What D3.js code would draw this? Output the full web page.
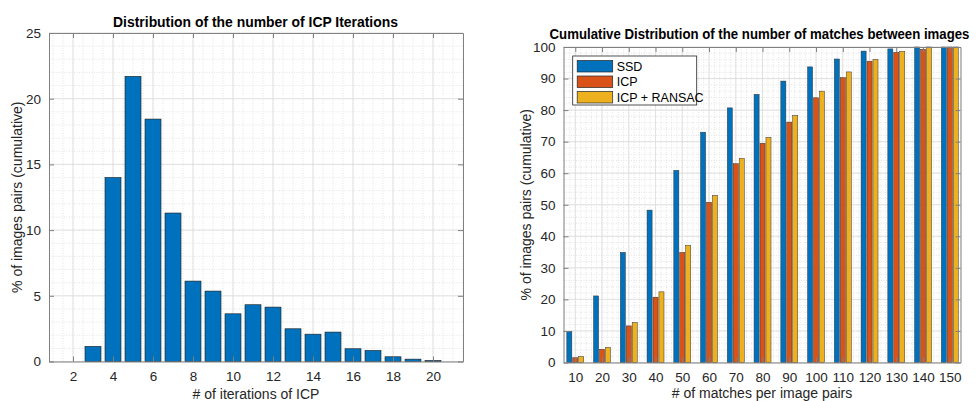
<!DOCTYPE html>
<html>
<head>
<meta charset="utf-8">
<script src="https://cdn.jsdelivr.net/npm/d3@7"></script>
<style>
  html, body { margin: 0; padding: 0; background: #fff; }
  svg { display: block; font-family: "Liberation Sans", Arial, Helvetica, sans-serif; }
</style>
</head>
<body>
<svg id="fig" width="977" height="401"></svg>
<script>
// ---- Left panel: histogram of ICP iteration counts ----
const iterations = [2, 3, 4, 5, 6, 7, 8, 9, 10, 11, 12, 13, 14, 15, 16, 17, 18, 19, 20];
const iterPct    = [0, 1.15, 14.0, 21.7, 18.45, 11.3, 6.12, 5.36, 3.63, 4.32, 4.14, 2.49, 2.08, 2.24, 0.97, 0.84, 0.36, 0.18, 0.08];
const iterTicks  = [2, 4, 6, 8, 10, 12, 14, 16, 18, 20];
const leftYTicks = [0, 5, 10, 15, 20, 25];

// ---- Right panel: cumulative distribution of matches ----
const matchBins  = [10, 20, 30, 40, 50, 60, 70, 80, 90, 100, 110, 120, 130, 140, 150];
const seriesNames = ["SSD", "ICP", "ICP + RANSAC"];
const ssd        = [9.8, 21.1, 34.9, 48.3, 60.9, 73.0, 80.7, 85.0, 89.2, 93.7, 96.2, 98.7, 99.4, 100, 100];
const icp        = [1.5, 4.2, 11.6, 20.7, 34.9, 50.8, 63.0, 69.5, 76.2, 83.9, 90.3, 95.5, 98.3, 99.3, 100];
const icpRansac  = [1.9, 4.8, 12.7, 22.4, 37.1, 53.0, 64.7, 71.4, 78.3, 86.0, 92.1, 96.1, 98.6, 100, 100];
const seriesColors = ["#0072BD", "#D95319", "#EDB120"];
const rightYTicks = [0, 10, 20, 30, 40, 50, 60, 70, 80, 90, 100];

const svg = d3.select("#fig");
const AXIS = "#808080";
const TEXT = "#262626";

function drawFrame(g, x, y, w, h, xTicks, yTicks, xMinorStep, yMinorStep) {
  const [x0, x1] = x.domain(), [y0, y1] = y.domain();
  const xm = d3.range(Math.ceil(x0 / xMinorStep) * xMinorStep, x1 + 1e-9, xMinorStep);
  const ym = d3.range(Math.ceil(y0 / yMinorStep) * yMinorStep, y1 + 1e-9, yMinorStep);
  const grid = g.append("g");
  // minor grid (dotted)
  grid.selectAll(".vmin").data(xm).join("line")
    .attr("x1", d => x(d)).attr("x2", d => x(d)).attr("y1", 0).attr("y2", h)
    .attr("stroke", "#d4d4d4").attr("stroke-width", 0.6).attr("stroke-dasharray", "1,1.5");
  grid.selectAll(".hmin").data(ym).join("line")
    .attr("x1", 0).attr("x2", w).attr("y1", d => y(d)).attr("y2", d => y(d))
    .attr("stroke", "#d4d4d4").attr("stroke-width", 0.6).attr("stroke-dasharray", "1,1.5");
  // major grid
  grid.selectAll(".vmaj").data(xTicks).join("line")
    .attr("x1", d => x(d)).attr("x2", d => x(d)).attr("y1", 0).attr("y2", h)
    .attr("stroke", "#dcdcdc").attr("stroke-width", 0.8);
  grid.selectAll(".hmaj").data(yTicks).join("line")
    .attr("x1", 0).attr("x2", w).attr("y1", d => y(d)).attr("y2", d => y(d))
    .attr("stroke", "#dcdcdc").attr("stroke-width", 0.8);
}

function drawAxes(g, x, y, w, h, xTicks, yTicks) {
  const tl = 5;
  const ax = g.append("g");
  // box axes with inward ticks on all four sides
  const bottom = ax.append("g").attr("transform", `translate(0,${h})`)
    .call(d3.axisBottom(x).tickValues(xTicks).tickSizeInner(-tl).tickSizeOuter(0).tickPadding(10).tickFormat(d3.format("d")));
  const left = ax.append("g")
    .call(d3.axisLeft(y).tickValues(yTicks).tickSizeInner(-tl).tickSizeOuter(0).tickPadding(8).tickFormat(d3.format("d")));
  const top = ax.append("g")
    .call(d3.axisTop(x).tickValues(xTicks).tickSizeInner(-tl).tickSizeOuter(0).tickFormat(""));
  const right = ax.append("g").attr("transform", `translate(${w},0)`)
    .call(d3.axisRight(y).tickValues(yTicks).tickSizeInner(-tl).tickSizeOuter(0).tickFormat(""));
  [bottom, left, top, right].forEach(a => {
    a.select(".domain").attr("stroke", AXIS).attr("stroke-width", 1);
    a.selectAll(".tick line").attr("stroke", AXIS);
    a.selectAll(".tick text").attr("fill", TEXT).attr("font-size", 13.5)
      .attr("font-family", "'Liberation Sans', Arial, sans-serif");
  });
}

// Bold title squeezed horizontally to a given width around its centre
function title(cx, baseline, size, width, str) {
  const t = svg.append("text").attr("text-anchor", "middle")
    .attr("font-size", size).attr("font-weight", "bold").attr("fill", "#000").text(str);
  const natural = t.node().getComputedTextLength();
  const k = Math.min(1, width / natural);
  t.attr("transform", `translate(${cx},${baseline}) scale(${k},1)`);
}

// ================= Left chart =================
{
  const L = 49, T = 33, W = 414, H = 328.5;
  const g = svg.append("g").attr("transform", `translate(${L},${T})`);
  const x = d3.scaleLinear().domain([0.8, 21.5]).range([0, W]);
  const y = d3.scaleLinear().domain([0, 25]).range([H, 0]);

  drawFrame(g, x, y, W, H, iterTicks, leftYTicks, 0.5, 1);

  const bw = x(0.8) - x(0);
  g.append("g").selectAll("rect").data(iterations.map((k, i) => ({ k, v: iterPct[i] })))
    .join("rect")
    .attr("x", d => x(d.k) - bw / 2)
    .attr("width", bw)
    .attr("y", d => y(d.v))
    .attr("height", d => H - y(d.v))
    .attr("fill", "#0072BD")
    .attr("stroke", "#1a1a1a").attr("stroke-width", 0.6);

  drawAxes(g, x, y, W, H, iterTicks, leftYTicks);

  title(255.5, 27, 14.5, 285, "Distribution of the number of ICP Iterations");
  svg.append("text").attr("x", L + W / 2).attr("y", 399).attr("text-anchor", "middle")
    .attr("font-size", 14).attr("fill", TEXT).text("# of iterations of ICP");
  svg.append("text").attr("transform", `translate(22,${T + H / 2}) rotate(-90)`)
    .attr("text-anchor", "middle").attr("font-size", 14).attr("fill", TEXT)
    .text("% of images pairs (cumulative)");
}

// ================= Right chart =================
{
  const L = 563.5, T = 47, W = 397, H = 315.5;
  const g = svg.append("g").attr("transform", `translate(${L},${T})`);
  const x = d3.scaleLinear().domain([5.6, 154]).range([0, W]);
  const y = d3.scaleLinear().domain([0, 100]).range([H, 0]);

  drawFrame(g, x, y, W, H, matchBins, rightYTicks, 2, 2);

  const series = [ssd, icp, icpRansac];
  const groupW = 10 * 3 / 4.5;          // width of one group in data units
  const slot = groupW / 3;
  const bw = x(slot * 0.85) - x(0);
  series.forEach((vals, s) => {
    const off = (s - 1) * slot;
    g.append("g").selectAll("rect").data(matchBins.map((b, i) => ({ b, v: vals[i] })))
      .join("rect")
      .attr("x", d => x(d.b + off) - bw / 2)
      .attr("width", bw)
      .attr("y", d => y(d.v))
      .attr("height", d => H - y(d.v))
      .attr("fill", seriesColors[s])
      .attr("stroke", "#333").attr("stroke-width", 0.5);
  });

  drawAxes(g, x, y, W, H, matchBins, rightYTicks);

  // legend
  const lg = g.append("g").attr("transform", `translate(${572.7 - L},${56 - T})`);
  lg.append("rect").attr("width", 124).attr("height", 49)
    .attr("fill", "#fff").attr("stroke", "#262626").attr("stroke-width", 0.8);
  seriesNames.forEach((n, i) => {
    const yy = 10 + i * 15.5;
    lg.append("rect").attr("x", 4.5).attr("y", yy - 5.5).attr("width", 35.5).attr("height", 11.5)
      .attr("fill", seriesColors[i]).attr("stroke", "#262626").attr("stroke-width", 0.7);
    lg.append("text").attr("x", 44).attr("y", yy + 4.5).attr("font-size", 12.5)
      .attr("fill", "#000").text(n);
  });

  title(759.5, 39, 14, 420, "Cumulative Distribution of the number of matches between images");
  svg.append("text").attr("x", L + W / 2).attr("y", 398).attr("text-anchor", "middle")
    .attr("font-size", 14).attr("fill", TEXT).text("# of matches per image pairs");
  svg.append("text").attr("transform", `translate(531,${T + H / 2}) rotate(-90)`)
    .attr("text-anchor", "middle").attr("font-size", 14).attr("fill", TEXT)
    .text("% of images pairs (cumulative)");
}
</script>
</body>
</html>
